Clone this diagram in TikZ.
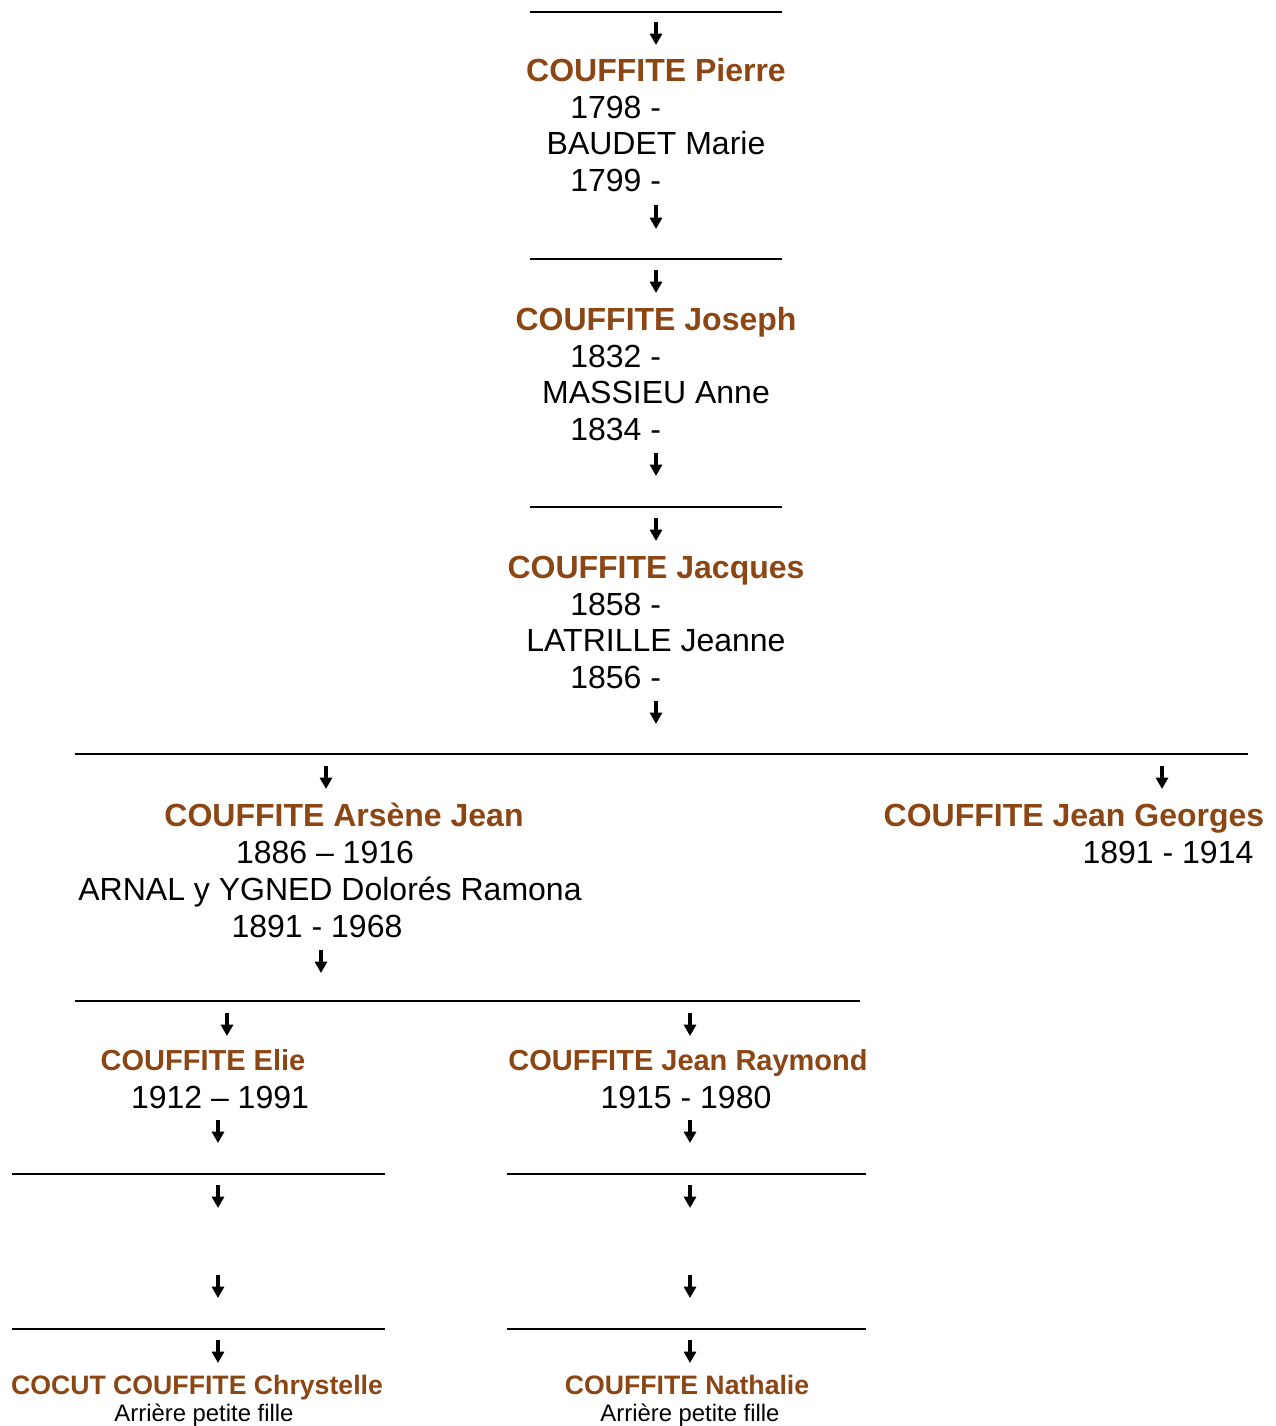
\documentclass[tikz,border=0pt]{standalone}
\usepackage{fontspec}
\setmainfont{Liberation Sans}
\usetikzlibrary{arrows.meta}
\definecolor{name_brown}{RGB}{140,70,20}
\tikzstyle{name_node} = [anchor=base, inner sep=0pt, text=name_brown, font=\fontsize{24}{28}\selectfont\bfseries]
\tikzstyle{child_name} = [name_node, font=\fontsize{21.75}{26}\selectfont\bfseries]
\tikzstyle{last_name} = [name_node, font=\fontsize{20}{24}\selectfont\bfseries]
\tikzstyle{date_node} = [anchor=base, inner sep=0pt, font=\fontsize{24}{28}\selectfont]
\tikzstyle{note_node} = [anchor=base, inner sep=0pt, font=\fontsize{17.9}{21}\selectfont]
\tikzstyle{gen_rule} = [line width=1.1pt]
\tikzstyle{gen_arrow} = [line width=2.3pt, -{Triangle[length=8.5pt, width=9pt]}]

\begin{document}
\begin{tikzpicture}[x=0.75pt, y=-0.75pt]
\useasboundingbox (0,0) rectangle (1276,1426);

% Pierre
\draw [gen_rule] (530,12) -- (782,12);
\draw [gen_arrow] (656,22) -- (656,45);
\node (pierre) [name_node] at (656,82) {COUFFITE Pierre};
\node (pierre_dates) [date_node, anchor=base west] at (570,119) {1798 -};
\node (marie) [date_node] at (656,155) {BAUDET Marie};
\node (marie_dates) [date_node, anchor=base west] at (570,192) {1799 -};
\draw [gen_arrow] (656,205) -- (656,229);

% Joseph
\draw [gen_rule] (530,259) -- (782,259);
\draw [gen_arrow] (656,270) -- (656,293);
\node (joseph) [name_node] at (656,330) {COUFFITE Joseph};
\node (joseph_dates) [date_node, anchor=base west] at (570,367) {1832 -};
\node (anne) [date_node] at (656,403) {MASSIEU Anne};
\node (anne_dates) [date_node, anchor=base west] at (570,440) {1834 -};
\draw [gen_arrow] (656,453) -- (656,476);

% Jacques
\draw [gen_rule] (530,507) -- (782,507);
\draw [gen_arrow] (656,518) -- (656,541);
\node (jacques) [name_node] at (656,578) {COUFFITE Jacques};
\node (jacques_dates) [date_node, anchor=base west] at (570,615) {1858 -};
\node (jeanne) [date_node] at (656,651) {LATRILLE Jeanne};
\node (jeanne_dates) [date_node, anchor=base west] at (570,688) {1856 -};
\draw [gen_arrow] (656,701) -- (656,724);

% enfants de Jacques
\draw [gen_rule] (75,754) -- (1248,754);
\draw [gen_arrow] (326,766) -- (326,789);
\draw [gen_arrow] (1162,766) -- (1162,789);
\node (arsene) [name_node] at (344,826) {COUFFITE Arsène Jean};
\node (arsene_dates) [date_node] at (325,863) {1886 – 1916};
\node (ramona) [date_node] at (330,900) {ARNAL y YGNED Dolorés Ramona};
\node (ramona_dates) [date_node] at (317,937) {1891 - 1968};
\node (georges) [name_node] at (1074,826) {COUFFITE Jean Georges};
\node (georges_dates) [date_node] at (1168,863) {1891 - 1914};
\draw [gen_arrow] (321,950) -- (321,973);

% enfants d'Arsène
\draw [gen_rule] (75,1001) -- (860,1001);
\draw [gen_arrow] (227,1013) -- (227,1036);
\draw [gen_arrow] (690,1013) -- (690,1036);
\node (elie) [child_name] at (203,1070) {COUFFITE Elie};
\node (elie_dates) [date_node] at (220,1108) {1912 – 1991};
\node (raymond) [child_name] at (688,1070) {COUFFITE Jean Raymond};
\node (raymond_dates) [date_node] at (686,1108) {1915 - 1980};
\draw [gen_arrow] (218,1120) -- (218,1143);
\draw [gen_arrow] (690,1120) -- (690,1143);

\draw [gen_rule] (12,1174) -- (385,1174);
\draw [gen_rule] (507,1174) -- (866,1174);
\draw [gen_arrow] (218,1185) -- (218,1208);
\draw [gen_arrow] (690,1185) -- (690,1208);
\draw [gen_arrow] (218,1275) -- (218,1298);
\draw [gen_arrow] (690,1275) -- (690,1298);

\draw [gen_rule] (12,1329) -- (385,1329);
\draw [gen_rule] (507,1329) -- (866,1329);
\draw [gen_arrow] (218,1340) -- (218,1363);
\draw [gen_arrow] (690,1340) -- (690,1363);
\node (chrystelle) [last_name] at (197,1394) {COCUT COUFFITE Chrystelle};
\node (chrystelle_note) [note_node] at (204,1421) {Arrière petite fille};
\node (nathalie) [last_name] at (687,1394) {COUFFITE Nathalie};
\node (nathalie_note) [note_node] at (690,1421) {Arrière petite fille};
\end{tikzpicture}
\end{document}
